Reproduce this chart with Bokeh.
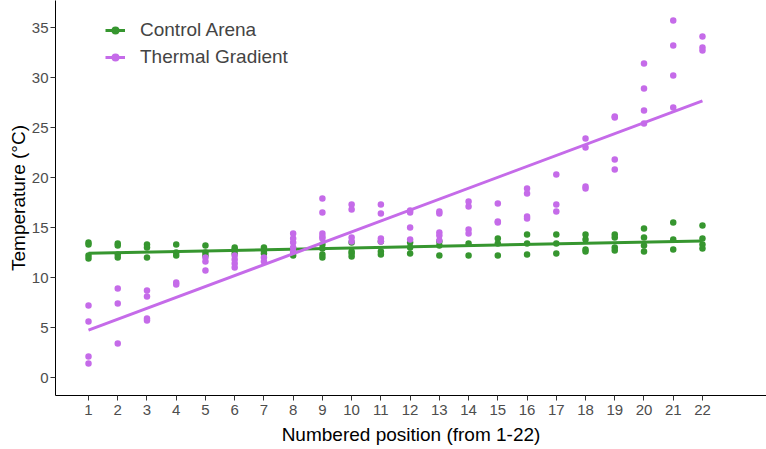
from bokeh.plotting import figure
from bokeh.models import Range1d, FixedTicker, Legend, LegendItem, ColumnDataSource
from bokeh.embed import file_html
from bokeh.resources import INLINE
import numpy as np

positions = list(range(1, 23))

thermal_values = [
    [7.2, 5.6, 2.1, 1.4],
    [8.9, 7.4, 3.4],
    [8.7, 8.1, 5.9, 5.7],
    [9.5, 9.3],
    [12.0, 11.6, 10.7],
    [12.2, 11.8, 11.4, 11.0],
    [12.0, 11.6],
    [14.4, 13.9, 13.5, 13.0, 12.6],
    [17.9, 16.5, 14.4, 14.1, 13.9],
    [17.3, 16.8, 14.0, 13.6],
    [17.3, 16.4, 13.9, 13.6],
    [16.7, 16.5, 15.0, 13.8],
    [16.6, 16.4, 14.5, 14.2, 13.7],
    [17.6, 17.1, 14.8, 14.4],
    [17.4, 15.6, 15.5],
    [18.9, 18.4, 16.1, 15.9],
    [20.3, 17.3, 16.6],
    [23.9, 23.0, 19.1, 18.9],
    [26.1, 26.0, 21.8, 20.8],
    [31.4, 28.9, 26.7, 25.4],
    [35.7, 33.2, 30.2, 27.0],
    [34.1, 33.0, 32.7],
]

control_values = [
    [13.5, 13.3, 12.2, 11.9],
    [13.4, 13.2, 12.3, 12.0],
    [13.3, 13.0, 12.0],
    [13.3, 12.5, 12.2],
    [13.2, 12.5, 12.2],
    [13.0, 12.8, 12.4],
    [13.0, 12.7, 12.4],
    [12.9, 12.6, 12.2],
    [13.3, 12.9, 12.3, 12.0],
    [13.5, 12.6, 12.4, 12.1],
    [13.6, 12.6, 12.3],
    [13.5, 13.0, 12.4],
    [13.6, 13.2, 12.2],
    [13.4, 12.2],
    [13.9, 13.4, 12.2],
    [14.3, 13.4, 12.3],
    [14.3, 13.4, 12.4],
    [14.3, 13.8, 12.8, 12.6],
    [14.3, 14.0, 13.0, 12.7],
    [14.9, 14.0, 13.2, 12.6],
    [15.5, 13.8, 12.8],
    [15.2, 13.9, 13.3, 12.9],
]

series_names = ["Control Arena", "Thermal Gradient"]
x_ticks = positions
y_ticks = [0, 5, 10, 15, 20, 25, 30, 35]

GREEN = "#36962f"
PURPLE = "#c56be9"
FONT = "Liberation Sans"


def flatten(values):
    xs, ys = [], []
    for pos, vals in zip(positions, values):
        for v in vals:
            xs.append(pos)
            ys.append(v)
    return np.array(xs, dtype=float), np.array(ys, dtype=float)


p = figure(width=766, height=449, output_backend="svg", toolbar_location=None,
           x_range=Range1d(-0.129, 24.19), y_range=Range1d(-1.8, 37.7),
           min_border_left=55, min_border_right=0, min_border_top=0, min_border_bottom=54)
p.outline_line_color = None
p.grid.grid_line_color = None

items = []
for name, values, color in [(series_names[0], control_values, GREEN),
                            (series_names[1], thermal_values, PURPLE)]:
    xs, ys = flatten(values)
    slope, intercept = np.polyfit(xs, ys, 1)
    lx = np.array([min(positions), max(positions)], dtype=float)
    src = ColumnDataSource(dict(x=xs, y=ys))
    sc = p.scatter("x", "y", source=src, size=6.5, color=color, line_color=None)
    ln = p.line(lx, intercept + slope * lx, line_color=color, line_width=3)
    items.append(LegendItem(label=name, renderers=[ln, sc]))

legend = Legend(items=items, location=(50, 327), border_line_color=None,
                background_fill_alpha=0, label_text_font=FONT,
                label_text_font_size="19px", glyph_width=20, glyph_height=20,
                label_height=20, spacing=5, padding=5, label_standoff=15)
p.add_layout(legend)

for ax in (p.xaxis, p.yaxis):
    ax.axis_line_color = "black"
    ax.axis_line_width = 1
    ax.major_tick_line_color = "#333333"
    ax.minor_tick_line_color = None
    ax.major_tick_out = 5
    ax.major_tick_in = 0
    ax.major_label_text_font = FONT
    ax.major_label_text_font_size = "15px"
    ax.major_label_text_color = "#4d4d4d"
    ax.axis_label_text_font = FONT
    ax.axis_label_text_font_size = "19px"
    ax.axis_label_text_font_style = "normal"
    ax.axis_label_text_color = "black"

p.xaxis.ticker = FixedTicker(ticks=x_ticks)
p.yaxis.ticker = FixedTicker(ticks=y_ticks)
p.xaxis.axis_label = "Numbered position (from 1-22)"
p.yaxis.axis_label = "Temperature (°C)"
p.xaxis.major_label_standoff = 4
p.xaxis.axis_label_standoff = 6
p.yaxis.major_label_standoff = 2
p.yaxis.axis_label_standoff = 0

open("out.html", "w").write(file_html(p, INLINE))
